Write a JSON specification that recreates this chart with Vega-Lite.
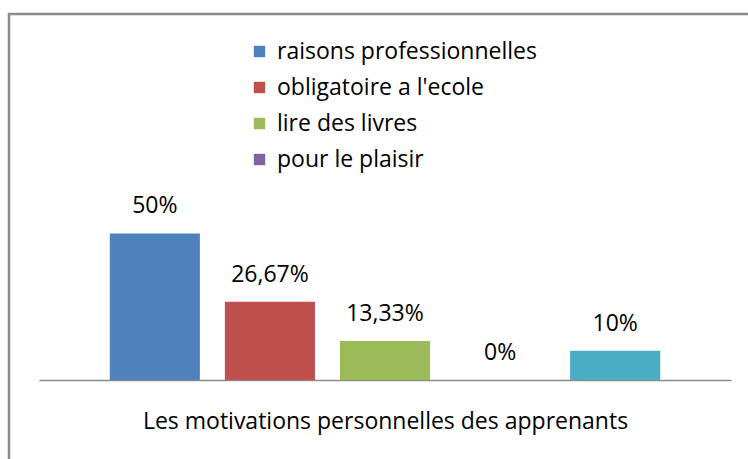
{
  "$schema": "https://vega.github.io/schema/vega-lite/v6.json",
  "autosize": "none",
  "padding": {"left": 9, "top": 14, "right": 0, "bottom": 0},
  "width": 760,
  "height": 460,
  "background": "white",
  "config": {
    "view": {"stroke": "#8c8c8c", "strokeWidth": 2.5},
    "font": "Open Sans"
  },
  "data": {
    "values": [
      {"motivation": "raisons professionnelles", "pct": 50, "label": "50%"},
      {"motivation": "obligatoire a l'ecole", "pct": 26.67, "label": "26,67%"},
      {"motivation": "lire des livres", "pct": 13.33, "label": "13,33%"},
      {"motivation": "pour le plaisir", "pct": 0, "label": "0%"},
      {"motivation": "autres", "pct": 10, "label": "10%"}
    ]
  },
  "encoding": {
    "x": {
      "field": "motivation",
      "type": "nominal",
      "sort": null,
      "scale": {"range": [30, 722], "paddingInner": 0.217, "paddingOuter": 0.615},
      "axis": {
        "orient": "bottom",
        "offset": -94,
        "labels": false,
        "ticks": false,
        "domainColor": "#8c8c8c",
        "domainWidth": 1.5,
        "title": "Les motivations personnelles des apprenants",
        "titleFont": "Open Sans",
        "titleFontSize": 23,
        "titleFontWeight": "normal",
        "titleColor": "black",
        "titleBaseline": "alphabetic",
        "titlePadding": 48
      }
    },
    "y": {
      "field": "pct",
      "type": "quantitative",
      "scale": {"domain": [-32.1, 124.9], "nice": false, "zero": false},
      "axis": null
    }
  },
  "layer": [
    {
      "mark": {"type": "bar"},
      "encoding": {
        "color": {
          "field": "motivation",
          "type": "nominal",
          "sort": null,
          "scale": {
            "domain": ["raisons professionnelles", "obligatoire a l'ecole", "lire des livres", "pour le plaisir", "autres"],
            "range": ["#4F81BD", "#C0504D", "#9BBB59", "#8064A2", "#4BACC6"]
          },
          "legend": {
            "values": ["raisons professionnelles", "obligatoire a l'ecole", "lire des livres", "pour le plaisir"],
            "orient": "none",
            "legendX": 239,
            "legendY": 26,
            "title": null,
            "symbolType": "square",
            "symbolSize": 130,
            "symbolStrokeWidth": 0,
            "labelFont": "Open Sans",
            "labelFontSize": 23,
            "labelColor": "black",
            "labelOffset": 6,
            "rowPadding": 12,
            "labelLimit": 400
          }
        }
      }
    },
    {
      "mark": {"type": "text", "baseline": "alphabetic", "dy": -20, "font": "Open Sans", "fontSize": 23, "color": "black"},
      "encoding": {"text": {"field": "label"}}
    }
  ]
}
